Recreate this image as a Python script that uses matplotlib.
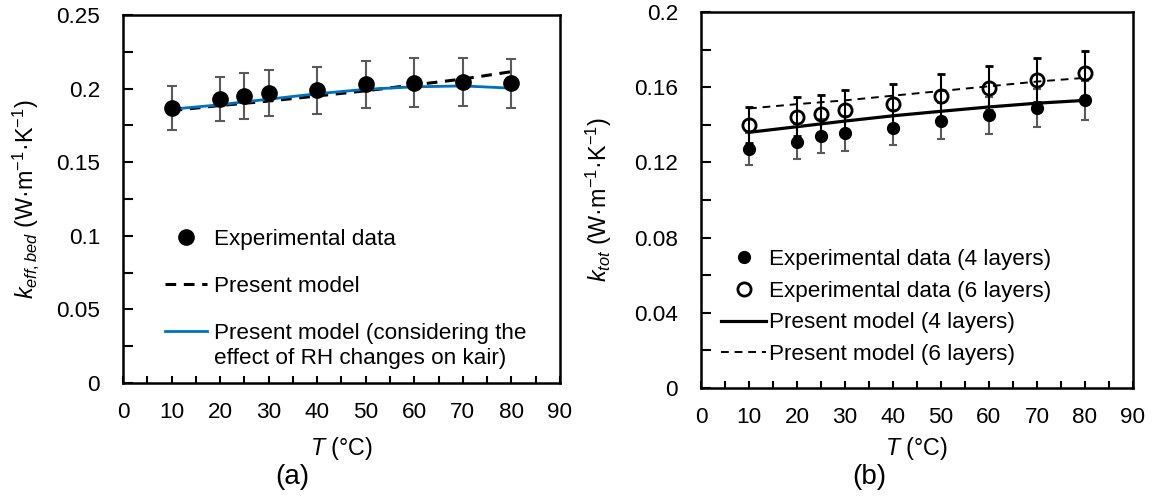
"""Thermal conductivity vs temperature, two panels (a) and (b)."""

import matplotlib

matplotlib.use("Agg")
import matplotlib.pyplot as plt
from matplotlib.ticker import MultipleLocator

plt.rcParams["font.family"] = ["Liberation Sans", "DejaVu Sans"]
plt.rcParams["mathtext.fontset"] = "custom"
plt.rcParams["mathtext.rm"] = "Liberation Sans"
plt.rcParams["mathtext.it"] = "Liberation Sans:italic"

FS = 16.2       # ticks and legend
FS_LAB = 16.8   # axis labels
GREY = "#5a5a5a"
BLUE = "#0070c0"

# panel (a)
temp = [10, 20, 25, 30, 40, 50, 60, 70, 80]
k_bed = [0.187, 0.193, 0.195, 0.197, 0.199, 0.203, 0.204, 0.2045, 0.2035]
k_bed_err = [0.015, 0.015, 0.0155, 0.0155, 0.016, 0.016, 0.0165, 0.0165, 0.0165]
model_bed = [0.185, 0.1885, 0.190, 0.1915, 0.195, 0.1985, 0.2025, 0.2065, 0.2115]
model_bed_rh = [0.186, 0.189, 0.191, 0.1928, 0.1965, 0.1995, 0.2012, 0.2018, 0.2003]

# panel (b)
k_tot4 = [0.127, 0.131, 0.134, 0.1355, 0.1385, 0.142, 0.145, 0.149, 0.153]
k_tot4_err = [0.0085, 0.009, 0.009, 0.0093, 0.0095, 0.0098, 0.010, 0.0102, 0.0105]
k_tot6 = [0.140, 0.1443, 0.1456, 0.1479, 0.1509, 0.1555, 0.1594, 0.1638, 0.1674]
k_tot6_err = [0.0097, 0.0103, 0.0105, 0.0106, 0.0108, 0.0115, 0.0117, 0.0116, 0.0119]
model_tot4 = [0.136, 0.139, 0.1405, 0.142, 0.1448, 0.1472, 0.1495, 0.1515, 0.153]
model_tot6 = [0.1487, 0.151, 0.152, 0.153, 0.1555, 0.158, 0.1605, 0.163, 0.165]


def fmt_num(v, pos):
    return f"{v:.2f}".rstrip("0").rstrip(".")


def style_axes(ax, ymax, ymajor, yminor):
    ax.set_xlim(0, 90)
    ax.set_ylim(0, ymax)
    ax.xaxis.set_major_locator(MultipleLocator(10))
    ax.xaxis.set_minor_locator(MultipleLocator(5))
    ax.yaxis.set_major_locator(MultipleLocator(ymajor))
    ax.yaxis.set_minor_locator(MultipleLocator(yminor))
    ax.yaxis.set_major_formatter(fmt_num)
    ax.tick_params(axis="both", which="both", direction="in", labelsize=FS,
                   width=1.5, top=False, right=False)
    ax.tick_params(axis="y", which="both", length=7, pad=16.5)
    ax.tick_params(axis="x", which="both", length=5, pad=14)
    for sp in ax.spines.values():
        sp.set_linewidth(1.8)


fig = plt.figure(figsize=(11.56, 5.03), dpi=100)
ax1 = fig.add_axes([0.1064, 0.2386, 0.378, 0.7316])
ax2 = fig.add_axes([0.6064, 0.2286, 0.3737, 0.7475])

# (a)
ln_dash, = ax1.plot(temp, model_bed, color="black", lw=2.2, ls=(0, (3.5, 2.5)),
                    zorder=2)
ln_rh, = ax1.plot(temp, model_bed_rh, color=BLUE, lw=2.0, zorder=3)
eb = ax1.errorbar(temp, k_bed, yerr=k_bed_err, fmt="o", color="black", ms=11,
                  ecolor=GREY, elinewidth=1.5, capsize=3.5, capthick=1.5,
                  zorder=4)
style_axes(ax1, 0.25, 0.05, 0.025)
ax1.set_xlabel(r"$T$ (°C)", fontsize=FS_LAB, va="center")
ax1.xaxis.set_label_coords(0.5, -0.177)
ax1.set_ylabel(r"$k_{eff,bed}$ (W·m$^{-1}$·K$^{-1}$)", fontsize=FS_LAB,
               va="center")
ax1.yaxis.set_label_coords(-0.222, 0.5)

leg1 = ax1.legend([eb.lines[0], ln_dash, ln_rh],
                  ["Experimental data", "Present model",
                   "Present model (considering the"],
                  loc="upper left", bbox_to_anchor=(0.07, 0.448), frameon=False,
                  fontsize=FS, borderpad=0, labelspacing=1.15,
                  handlelength=1.87, handletextpad=0.3)
ax1.annotate("effect of RH changes on kair)", xy=(0, 0),
             xycoords=leg1.get_texts()[2], xytext=(0, -3),
             textcoords="offset points", ha="left", va="top", fontsize=FS,
             zorder=10)

# (b)
ln4, = ax2.plot(temp, model_tot4, color="black", lw=2.3, zorder=2)
ln6, = ax2.plot(temp, model_tot6, color="black", lw=1.4, ls=(0, (4, 3)),
                zorder=2)
eb4 = ax2.errorbar(temp, k_tot4, yerr=k_tot4_err, fmt="o", color="black",
                   ms=8.5, ecolor=GREY, elinewidth=1.5, capsize=3,
                   capthick=1.5, zorder=3)
eb6 = ax2.errorbar(temp, k_tot6, yerr=k_tot6_err, fmt="o", color="black",
                   ms=9.5, mfc="none", mec="black", mew=2.0, ecolor="black",
                   elinewidth=1.5, capsize=3, capthick=1.5, zorder=4)
style_axes(ax2, 0.2, 0.04, 0.02)
ax2.set_xlabel(r"$T$ (°C)", fontsize=FS_LAB, va="center")
ax2.xaxis.set_label_coords(0.5, -0.16)
ax2.set_ylabel(r"$k_{tot}$ (W·m$^{-1}$·K$^{-1}$)", fontsize=FS_LAB,
               va="center")
ax2.yaxis.set_label_coords(-0.236, 0.5)

ax2.legend([eb4.lines[0], eb6.lines[0], ln4, ln6],
           ["Experimental data (4 layers)", "Experimental data (6 layers)",
            "Present model (4 layers)", "Present model (6 layers)"],
           loc="upper left", bbox_to_anchor=(0.021, 0.40), frameon=False,
           fontsize=FS, borderpad=0, labelspacing=0.48,
           handlelength=2.0, handletextpad=0.13)

fig.text(0.253, 0.052, "(a)", fontsize=20, ha="center", va="center")
fig.text(0.752, 0.052, "(b)", fontsize=20, ha="center", va="center")

fig.savefig("out.png", dpi=100)
